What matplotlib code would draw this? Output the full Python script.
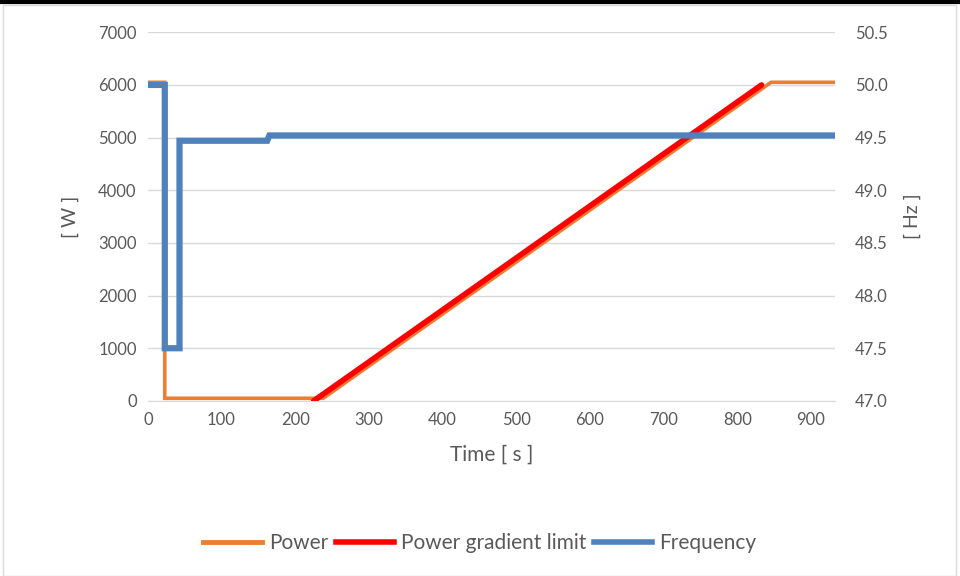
import matplotlib
matplotlib.use("Agg")
import matplotlib.pyplot as plt
from matplotlib.lines import Line2D
from matplotlib.patches import Rectangle

plt.rcParams['font.family'] = ['Lato', 'DejaVu Sans']

# data
power_t = [0, 23, 23, 238, 846, 933]
power_w = [6050, 6050, 50, 50, 6050, 6050]

limit_t = [225, 833]
limit_w = [0, 6000]

freq_t = [0, 23, 23, 43, 43, 162, 165, 933]
freq_hz = [50.0, 50.0, 47.5, 47.5, 49.47, 49.47, 49.52, 49.52]

x_ticks = [0, 100, 200, 300, 400, 500, 600, 700, 800, 900]
w_ticks = [0, 1000, 2000, 3000, 4000, 5000, 6000, 7000]
hz_ticks = [47.0, 47.5, 48.0, 48.5, 49.0, 49.5, 50.0, 50.5]

txt = '#595959'
c_power = '#ED7D31'
c_limit = '#FF0000'
c_freq = '#4F81BD'

fig = plt.figure(figsize=(9.6, 5.76), dpi=100)
ax = fig.add_axes([0.154, 0.304, 0.716, 0.640])

# chart frame
fig.patches.append(Rectangle((3 / 960, 0), 953 / 960, 571 / 576, transform=fig.transFigure,
                             fill=False, edgecolor='#D9D9D9', lw=1))
fig.lines.append(Line2D([0, 1], [0.997, 0.997], transform=fig.transFigure, color='black', lw=3))

ax.plot(power_t, power_w, color=c_power, lw=2.6, solid_joinstyle='miter', zorder=3)
ax.plot(limit_t, limit_w, color=c_limit, lw=4, solid_capstyle='round', zorder=4)

ax.set_xlim(0, 933)
ax.set_ylim(0, 7000)
ax.set_xticks(x_ticks)
ax.set_yticks(w_ticks)
ax.grid(axis='y', color='#D9D9D9', lw=1)
ax.set_axisbelow(True)
for s in ['top', 'right', 'left']:
    ax.spines[s].set_visible(False)
ax.spines['bottom'].set_color('#D9D9D9')
ax.tick_params(length=0, labelsize=12, colors=txt, pad=8)
ax.set_xlabel('Time [ s ]', fontsize=15, color=txt, labelpad=12)
ax.set_ylabel('[ W ]', fontsize=14, color=txt, labelpad=14)

ax2 = ax.twinx()
ax2.plot(freq_t, freq_hz, color=c_freq, lw=4.5, solid_joinstyle='miter', zorder=5)
ax2.set_ylim(47.0, 50.5)
ax2.set_yticks(hz_ticks)
ax2.set_yticklabels([f'{v:.1f}' for v in hz_ticks])
for s in ['top', 'right', 'left', 'bottom']:
    ax2.spines[s].set_visible(False)
ax2.tick_params(length=0, labelsize=12, colors=txt, pad=14)
ax2.set_ylabel('[ Hz ]', fontsize=14, color=txt, rotation=90, labelpad=12)

handles = [Line2D([], [], color=c_power, lw=3.5),
           Line2D([], [], color=c_limit, lw=4),
           Line2D([], [], color=c_freq, lw=4)]
fig.legend(handles, ['Power', 'Power gradient limit', 'Frequency'], loc='center',
           bbox_to_anchor=(0.5, 0.057), ncol=3, frameon=False, fontsize=15,
           labelcolor=txt, handlelength=2.8, handletextpad=0.35, columnspacing=0.35)

fig.savefig('out.png', dpi=100)
